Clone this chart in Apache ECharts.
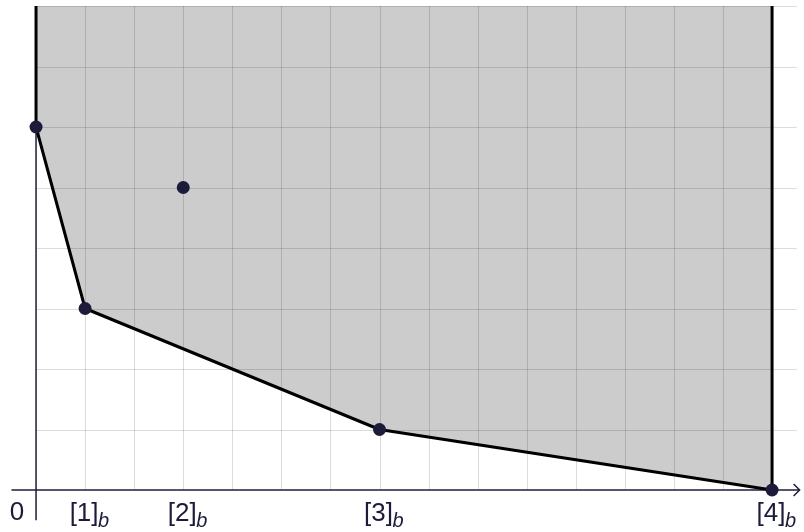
<!DOCTYPE html>
<html>
<head>
<meta charset="utf-8">
<script src="https://cdn.jsdelivr.net/npm/echarts@6/dist/echarts.min.js"></script>
<style>
  html, body { margin: 0; padding: 0; background: #ffffff; }
  #chart { width: 804px; height: 532px; }
</style>
</head>
<body>
<div id="chart"></div>
<script>
// Lower boundary of the feasible region (convex hull vertices)
const hullX = [0, 1, 7, 15];
const hullY = [6, 3, 1, 0];
// Every plotted point, including the one inside the region
const pointX = [0, 1, 3, 7, 15];
const pointY = [6, 3, 5, 1, 0];
// Tick labels on the horizontal axis
const tickX = [1, 3, 7, 15];
const tickText = ['[1]', '[2]', '[3]', '[4]'];
const tickSub = ['b', 'b', 'b', 'b'];
// Grid lines
const gridXs = [1, 2, 3, 4, 5, 6, 7, 8, 9, 10, 11, 12, 13, 14, 15];
const gridYs = [1, 2, 3, 4, 5, 6, 7, 8];

const X_MIN = -0.5, X_MAX = 15.5, Y_MIN = -0.5, Y_MAX = 8;
const INK = '#1c1c3a';
const FONT = '"Liberation Sans", Arial, sans-serif';

const chart = echarts.init(document.getElementById('chart'), null, { renderer: 'canvas' });

// Region above the hull, closed at the top of the plot
const regionPts = [[hullX[0], Y_MAX]]
  .concat(hullX.map((x, i) => [x, hullY[i]]))
  .concat([[hullX[hullX.length - 1], Y_MAX]]);

const gridData = gridXs.map(x => ['v', x]).concat(gridYs.map(y => ['h', y]));
const crisp = v => Math.round(v) + 0.5;

const option = {
  animation: false,
  grid: { left: 11.5, right: 7.4, top: 6, bottom: 11.75 },
  xAxis: { type: 'value', min: X_MIN, max: X_MAX, show: false },
  yAxis: { type: 'value', min: Y_MIN, max: Y_MAX, show: false },
  series: [
    {
      // shaded region
      type: 'custom',
      z: 1,
      silent: true,
      data: [0],
      renderItem: (params, api) => ({
        type: 'polygon',
        shape: { points: regionPts.map(p => api.coord(p)) },
        style: { fill: '#cccccc' }
      })
    },
    {
      // grid lines
      type: 'custom',
      z: 2,
      silent: true,
      data: gridData,
      renderItem: (params, api) => {
        const kind = gridData[params.dataIndex][0];
        const v = gridData[params.dataIndex][1];
        let a, b;
        if (kind === 'v') {
          a = api.coord([v, 0]); b = api.coord([v, Y_MAX]);
          a[0] = b[0] = crisp(a[0]);
        } else {
          a = api.coord([0, v]); b = api.coord([X_MAX, v]);
          a[1] = b[1] = crisp(a[1]);
        }
        return {
          type: 'line',
          shape: { x1: a[0], y1: a[1], x2: b[0], y2: b[1] },
          style: { stroke: 'rgba(0,0,0,0.14)', lineWidth: 1 }
        };
      }
    },
    {
      // axes with arrow on the horizontal axis
      type: 'custom',
      z: 3,
      silent: true,
      data: [0],
      renderItem: (params, api) => {
        const xa = api.coord([X_MIN, 0]);
        const xb = api.coord([X_MAX, 0]);
        const ya = api.coord([0, Y_MIN]);
        const yb = api.coord([0, Y_MAX]);
        const st = { stroke: INK, lineWidth: 1.5, fill: null };
        return {
          type: 'group',
          children: [
            { type: 'line', shape: { x1: xa[0], y1: xa[1], x2: xb[0] + 3, y2: xb[1] }, style: st },
            { type: 'line', shape: { x1: ya[0], y1: ya[1], x2: yb[0], y2: yb[1] }, style: st },
            { type: 'polyline', shape: { points: [[xb[0] - 3, xb[1] - 6], [xb[0] + 3, xb[1]], [xb[0] - 3, xb[1] + 6]] }, style: st }
          ]
        };
      }
    },
    {
      // boundary of the region
      type: 'line',
      z: 4,
      silent: true,
      data: regionPts,
      symbol: 'none',
      lineStyle: { color: '#000000', width: 3 }
    },
    {
      type: 'scatter',
      z: 5,
      silent: true,
      data: pointX.map((x, i) => [x, pointY[i]]),
      symbol: 'circle',
      symbolSize: 13,
      itemStyle: { color: INK, opacity: 1 }
    },
    {
      // tick labels
      type: 'custom',
      z: 6,
      silent: true,
      data: tickX.map((x, i) => i),
      renderItem: (params, api) => {
        const i = params.dataIndex;
        const c = api.coord([tickX[i], 0]);
        return {
          type: 'group',
          children: [
            { type: 'text', x: c[0] - 1, y: c[1] + 24, style: { text: tickText[i], fill: INK, font: '26px ' + FONT, align: 'center', verticalAlign: 'middle' } },
            { type: 'text', x: c[0] + 13, y: c[1] + 31, style: { text: tickSub[i], fill: INK, font: 'italic 20px ' + FONT, align: 'left', verticalAlign: 'middle' } }
          ]
        };
      }
    },
    {
      // origin label
      type: 'custom',
      z: 6,
      silent: true,
      data: [0],
      renderItem: (params, api) => {
        const c = api.coord([0, 0]);
        return { type: 'text', x: c[0] - 19, y: c[1] + 23, style: { text: '0', fill: INK, font: '26px ' + FONT, align: 'center', verticalAlign: 'middle' } };
      }
    }
  ]
};
chart.setOption(option);
</script>
</body>
</html>
